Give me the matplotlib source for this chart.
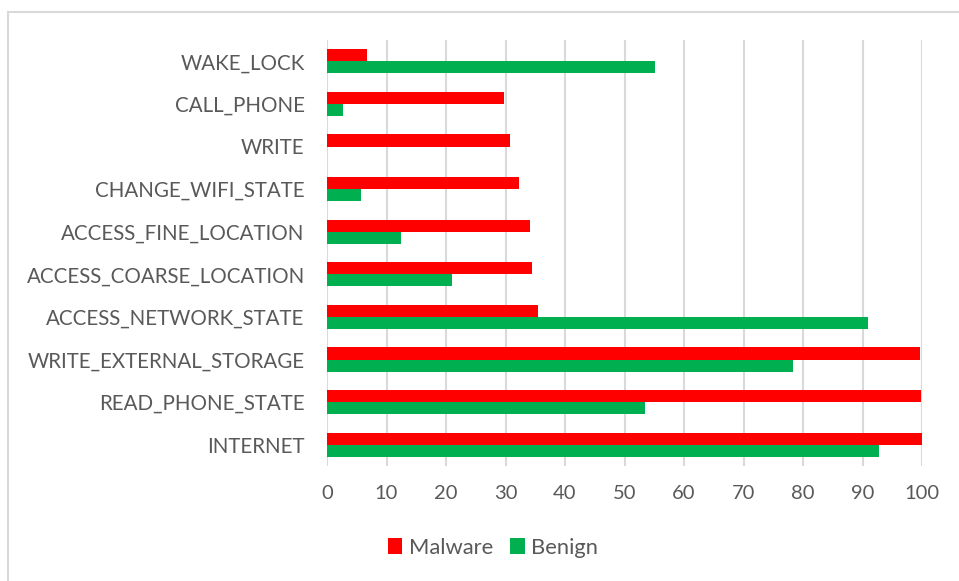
import matplotlib
matplotlib.use("Agg")
import matplotlib.pyplot as plt
from matplotlib.patches import Rectangle
import numpy as np

categories = ["INTERNET", "READ_PHONE_STATE", "WRITE_EXTERNAL_STORAGE", "ACCESS_NETWORK_STATE",
              "ACCESS_COARSE_LOCATION", "ACCESS_FINE_LOCATION", "CHANGE_WIFI_STATE", "WRITE",
              "CALL_PHONE", "WAKE_LOCK"]
malware = [100, 99.8, 99.6, 35.5, 34.5, 34.2, 32.2, 30.8, 29.8, 6.8]
benign = [92.7, 53.5, 78.4, 91.0, 21.0, 12.5, 5.7, 0, 2.7, 55.2]
xticks = [0, 10, 20, 30, 40, 50, 60, 70, 80, 90, 100]

plt.rcParams['font.family'] = ['Lato', 'DejaVu Sans']
W, H = 959, 581
fig = plt.figure(figsize=(W/100, H/100), dpi=100)
ax = fig.add_axes([327/W, 1-466/H, (922-327)/W, (466-40)/H])

y = np.arange(len(categories))
bh = 0.285
red = "#FF0000"
green = "#00B050"
ax.barh(y + bh/2, malware, height=bh, color=red, label="Malware", zorder=3)
ax.barh(y - bh/2, benign, height=bh, color=green, label="Benign", zorder=3)

ax.set_xlim(0, 100)
ax.set_ylim(-0.5, len(categories)-0.5)
ax.set_yticks(y)
ax.set_yticklabels(categories)
ax.set_xticks(xticks)
ax.set_xticklabels([str(t) for t in xticks])
ax.tick_params(axis='both', length=0, colors="#595959")
ax.tick_params(axis='y', pad=16, labelsize=14.8)
ax.tick_params(axis='x', pad=14, labelsize=14.5)
for s in ax.spines.values():
    s.set_visible(False)
ax.grid(axis='x', color="#D9D9D9", linewidth=1.5, zorder=0)
ax.set_axisbelow(True)

leg = fig.legend(handles=ax.get_legend_handles_labels()[0], labels=["Malware", "Benign"],
                 loc="center", bbox_to_anchor=(493/W, 1-548/H), ncol=2, frameon=False,
                 fontsize=15.8, handlelength=0.65, handleheight=0.75, handletextpad=0.3,
                 columnspacing=0.8)
for t in leg.get_texts():
    t.set_color("#595959")

fig.patches.append(Rectangle((7.5/W, -0.1), 1.2, 1 - 11.5/H + 0.1, transform=fig.transFigure,
                             fill=False, edgecolor="#D9D9D9", linewidth=1.5))

fig.savefig("out.png", dpi=100)
